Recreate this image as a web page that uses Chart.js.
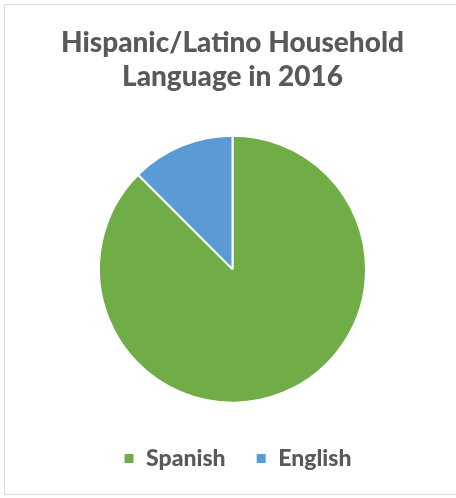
<!DOCTYPE html>
<html>
<head>
<meta charset="utf-8">
<script src="https://cdn.jsdelivr.net/npm/chart.js@4/dist/chart.umd.min.js"></script>
<style>
  html, body { margin: 0; padding: 0; background: #fff; }
  #wrap { width: 456px; height: 498px; }
</style>
</head>
<body>
<div id="wrap"><canvas id="chart" width="456" height="498"></canvas></div>
<script>
const titleLines = ['Hispanic/Latino Household', 'Language in 2016'];
const languages = ['Spanish', 'English'];
const shares = [87.5, 12.5];
const sliceColors = ['#70AD47', '#5B9BD5'];

// light grey frame around the chart, like the office chart border
const chartFrame = {
  id: 'chartFrame',
  afterLayout(chart, args, options) {
    // the legend sits a little right of the pie centre
    chart.legend.left += options.legendShift;
    chart.legend.right += options.legendShift;
  },
  beforeDraw(chart, args, options) {
    const {ctx} = chart;
    ctx.save();
    ctx.fillStyle = '#ffffff';
    ctx.fillRect(0, 0, chart.width, chart.height);
    ctx.strokeStyle = options.color;
    ctx.lineWidth = 1;
    ctx.strokeRect(4.5, 4.5, chart.width + 10, chart.height - 8);
    ctx.restore();
  }
};

new Chart(document.getElementById('chart'), {
  type: 'pie',
  data: {
    labels: languages,
    datasets: [{
      data: shares,
      backgroundColor: sliceColors,
      borderColor: '#ffffff',
      borderWidth: 2,
      hoverOffset: 0,
      radius: 133.5
    }]
  },
  options: {
    responsive: false,
    animation: false,
    layout: {
      padding: {top: 12, left: 14, right: 5, bottom: 18}
    },
    plugins: {
      title: {
        display: true,
        text: titleLines,
        color: '#595959',
        font: {family: 'Lato', size: 28, weight: '900', lineHeight: 1.22},
        padding: {top: 14, bottom: 27}
      },
      legend: {
        position: 'bottom',
        labels: {
          boxWidth: 11,
          boxHeight: 11,
          padding: 30,
          color: '#595959',
          font: {family: 'Lato', size: 23, weight: '900'}
        }
      },
      tooltip: {enabled: false},
      chartFrame: {color: '#D9D9D9', legendShift: 5}
    }
  },
  plugins: [chartFrame]
});
</script>
</body>
</html>
